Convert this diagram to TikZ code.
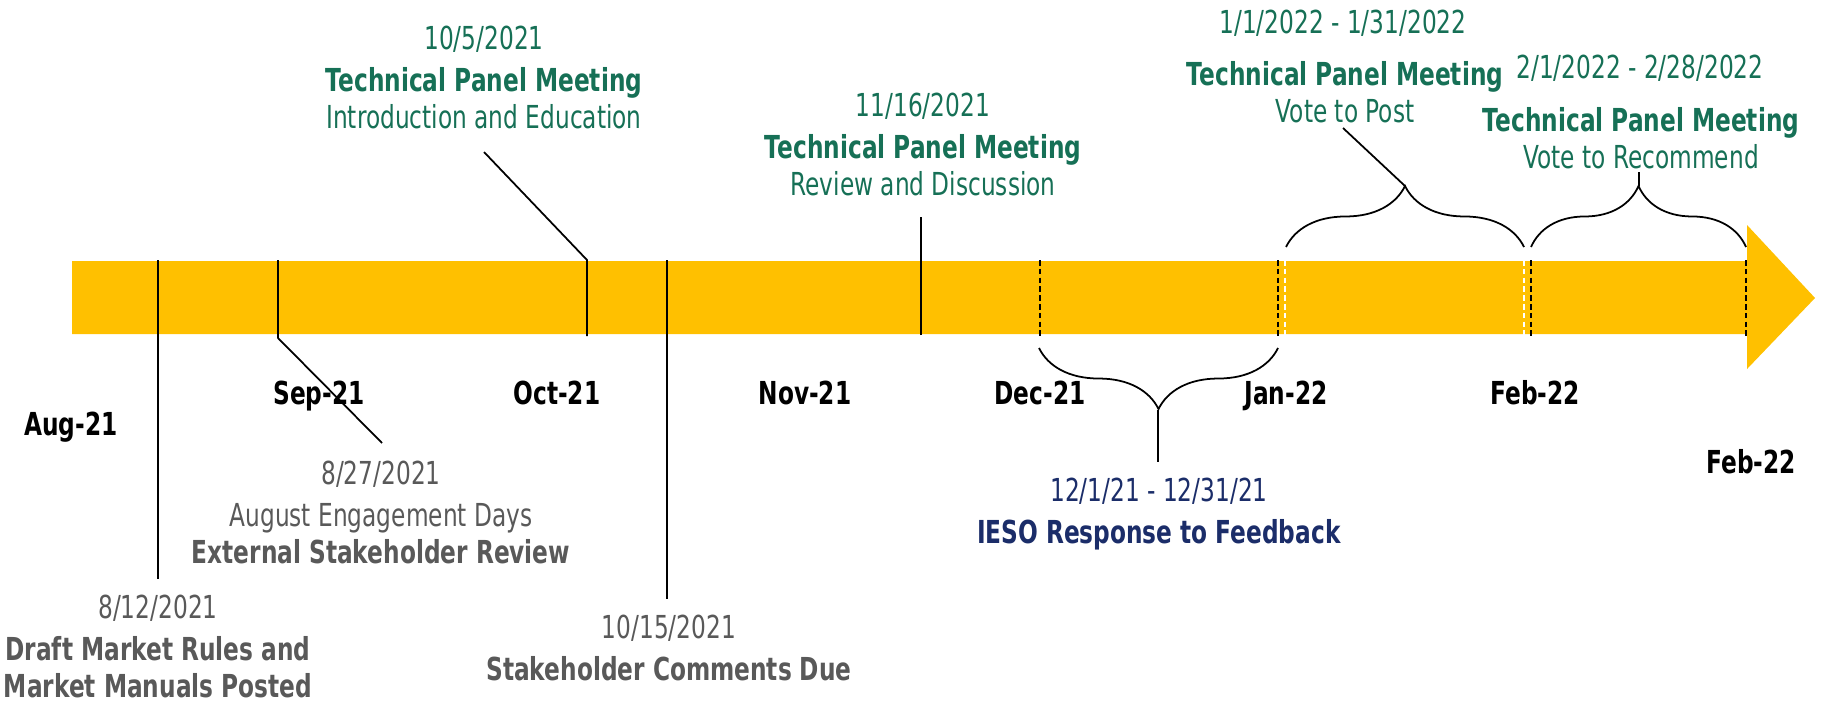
\documentclass[tikz,border=0pt]{standalone}
\usepackage{fontspec}
\setmainfont{DejaVu Sans}[FakeStretch=0.735]
\usetikzlibrary{decorations.pathreplacing}
\definecolor{barYellow}{RGB}{255,192,0}
\definecolor{panelGreen}{RGB}{22,112,86}
\definecolor{stakeGrey}{RGB}{89,89,89}
\definecolor{iesoBlue}{RGB}{27,45,105}

\begin{document}
\begin{tikzpicture}[x=0.01cm, y=-0.01cm,
        txt/.style={align=center, inner sep=0pt, anchor=base, font=\fontsize{9}{10.5}\selectfont},
        month/.style={txt, font=\fontsize{9}{10.5}\selectfont\bfseries},
        panel/.style={txt, text=panelGreen},
        stake/.style={txt, text=stakeGrey},
        ieso/.style={txt, text=iesoBlue},
        marker/.style={line width=0.5pt},
        gap/.style={line width=0.6pt, dash pattern=on 1.6pt off 0.9pt},
        span/.style={line width=0.5pt, decorate, decoration={brace, amplitude=0.61cm}}]
        \useasboundingbox (0,0) rectangle (1825,703);

        % timeline bar with arrow head
        \fill[barYellow] (72,261) -- (1747,261) -- (1747,225) -- (1815,298) -- (1747,369) -- (1747,334) -- (72,334) -- cycle;

        % months
        \node[month] (aug)  at (71,435)   {Aug-21};
        \node[month] (sep)  at (319,404)  {Sep-21};
        \node[month] (oct)  at (557,404)  {Oct-21};
        \node[month] (nov)  at (805,404)  {Nov-21};
        \node[month] (dec)  at (1040,404) {Dec-21};
        \node[month] (jan)  at (1286,404) {Jan-22};
        \node[month] (feb)  at (1535,404) {Feb-22};
        \node[month] (febx) at (1751,473) {Feb-22};

        % events (anchored on last line)
        \node[stake] (e0812) at (158,697)  {8/12/2021\\[1.2pt]\textbf{Draft Market Rules and}\\\textbf{Market Manuals Posted}};
        \node[stake] (e0827) at (381,563)  {8/27/2021\\[1.2pt]August Engagement Days\\\textbf{External Stakeholder Review}};
        \node[panel] (e1005) at (484,128)  {10/5/2021\\[1.2pt]\textbf{Technical Panel Meeting}\\Introduction and Education};
        \node[stake] (e1015) at (669,680)  {10/15/2021\\[1.2pt]\textbf{Stakeholder Comments Due}};
        \node[panel] (e1116) at (923,195)  {11/16/2021\\[1.2pt]\textbf{Technical Panel Meeting}\\Review and Discussion};
        \node[ieso]  (e1201) at (1159,543) {12/1/21 - 12/31/21\\[1.2pt]\textbf{IESO Response to Feedback}};
        \node[panel] (d0101) at (1343,33)  {1/1/2022 - 1/31/2022};
        \node[panel] (e0101) at (1345,122) {\textbf{Technical Panel Meeting}\\Vote to Post};
        \node[panel] (d0201) at (1640,78)  {2/1/2022 - 2/28/2022};
        \node[panel] (e0201) at (1641,168) {\textbf{Technical Panel Meeting}\\Vote to Recommend};

        % leader lines
        \coordinate (m0812) at (158,260);  \coordinate (l0812) at (158,579);
        \coordinate (m0827) at (278,260);  \coordinate (k0827) at (278,338);  \coordinate (l0827) at (382,443);
        \coordinate (m1005) at (587,336);  \coordinate (k1005) at (587,260);  \coordinate (l1005) at (484,152);
        \coordinate (m1015) at (667,260);  \coordinate (l1015) at (667,599);
        \coordinate (m1116) at (921,335);  \coordinate (l1116) at (921,217);

        \draw[marker] (m0812) -- (l0812);
        \draw[marker] (m0827) -- (k0827) -- (l0827);
        \draw[marker] (m1005) -- (k1005) -- (l1005);
        \draw[marker] (m1015) -- (l1015);
        \draw[marker] (m1116) -- (l1116);

        % month ends
        \foreach \x/\c in {1040/black, 1278/black, 1285/white, 1524/white, 1531/black, 1746/black}
            \draw[gap, \c] (\x,260) -- (\x,336);

        % braces
        \coordinate (s1201) at (1278,348); \coordinate (t1201) at (1039,348);
        \coordinate (s0101) at (1286,247); \coordinate (t0101) at (1524,247);
        \coordinate (s0201) at (1531,247); \coordinate (t0201) at (1746,247);
        \coordinate (p1201) at (1158,410); \coordinate (q1201) at (1158,462);
        \coordinate (p0101) at (1405,186); \coordinate (q0101) at (1343,128);
        \coordinate (p0201) at (1639,186); \coordinate (q0201) at (1639,172);

        \draw[span] (s1201) -- (t1201);
        \draw[span] (s0101) -- (t0101);
        \draw[span] (s0201) -- (t0201);
        \draw[marker] (p1201) -- (q1201);
        \draw[marker] (p0101) -- (q0101);
        \draw[marker] (p0201) -- (q0201);
    \end{tikzpicture}
\end{document}
